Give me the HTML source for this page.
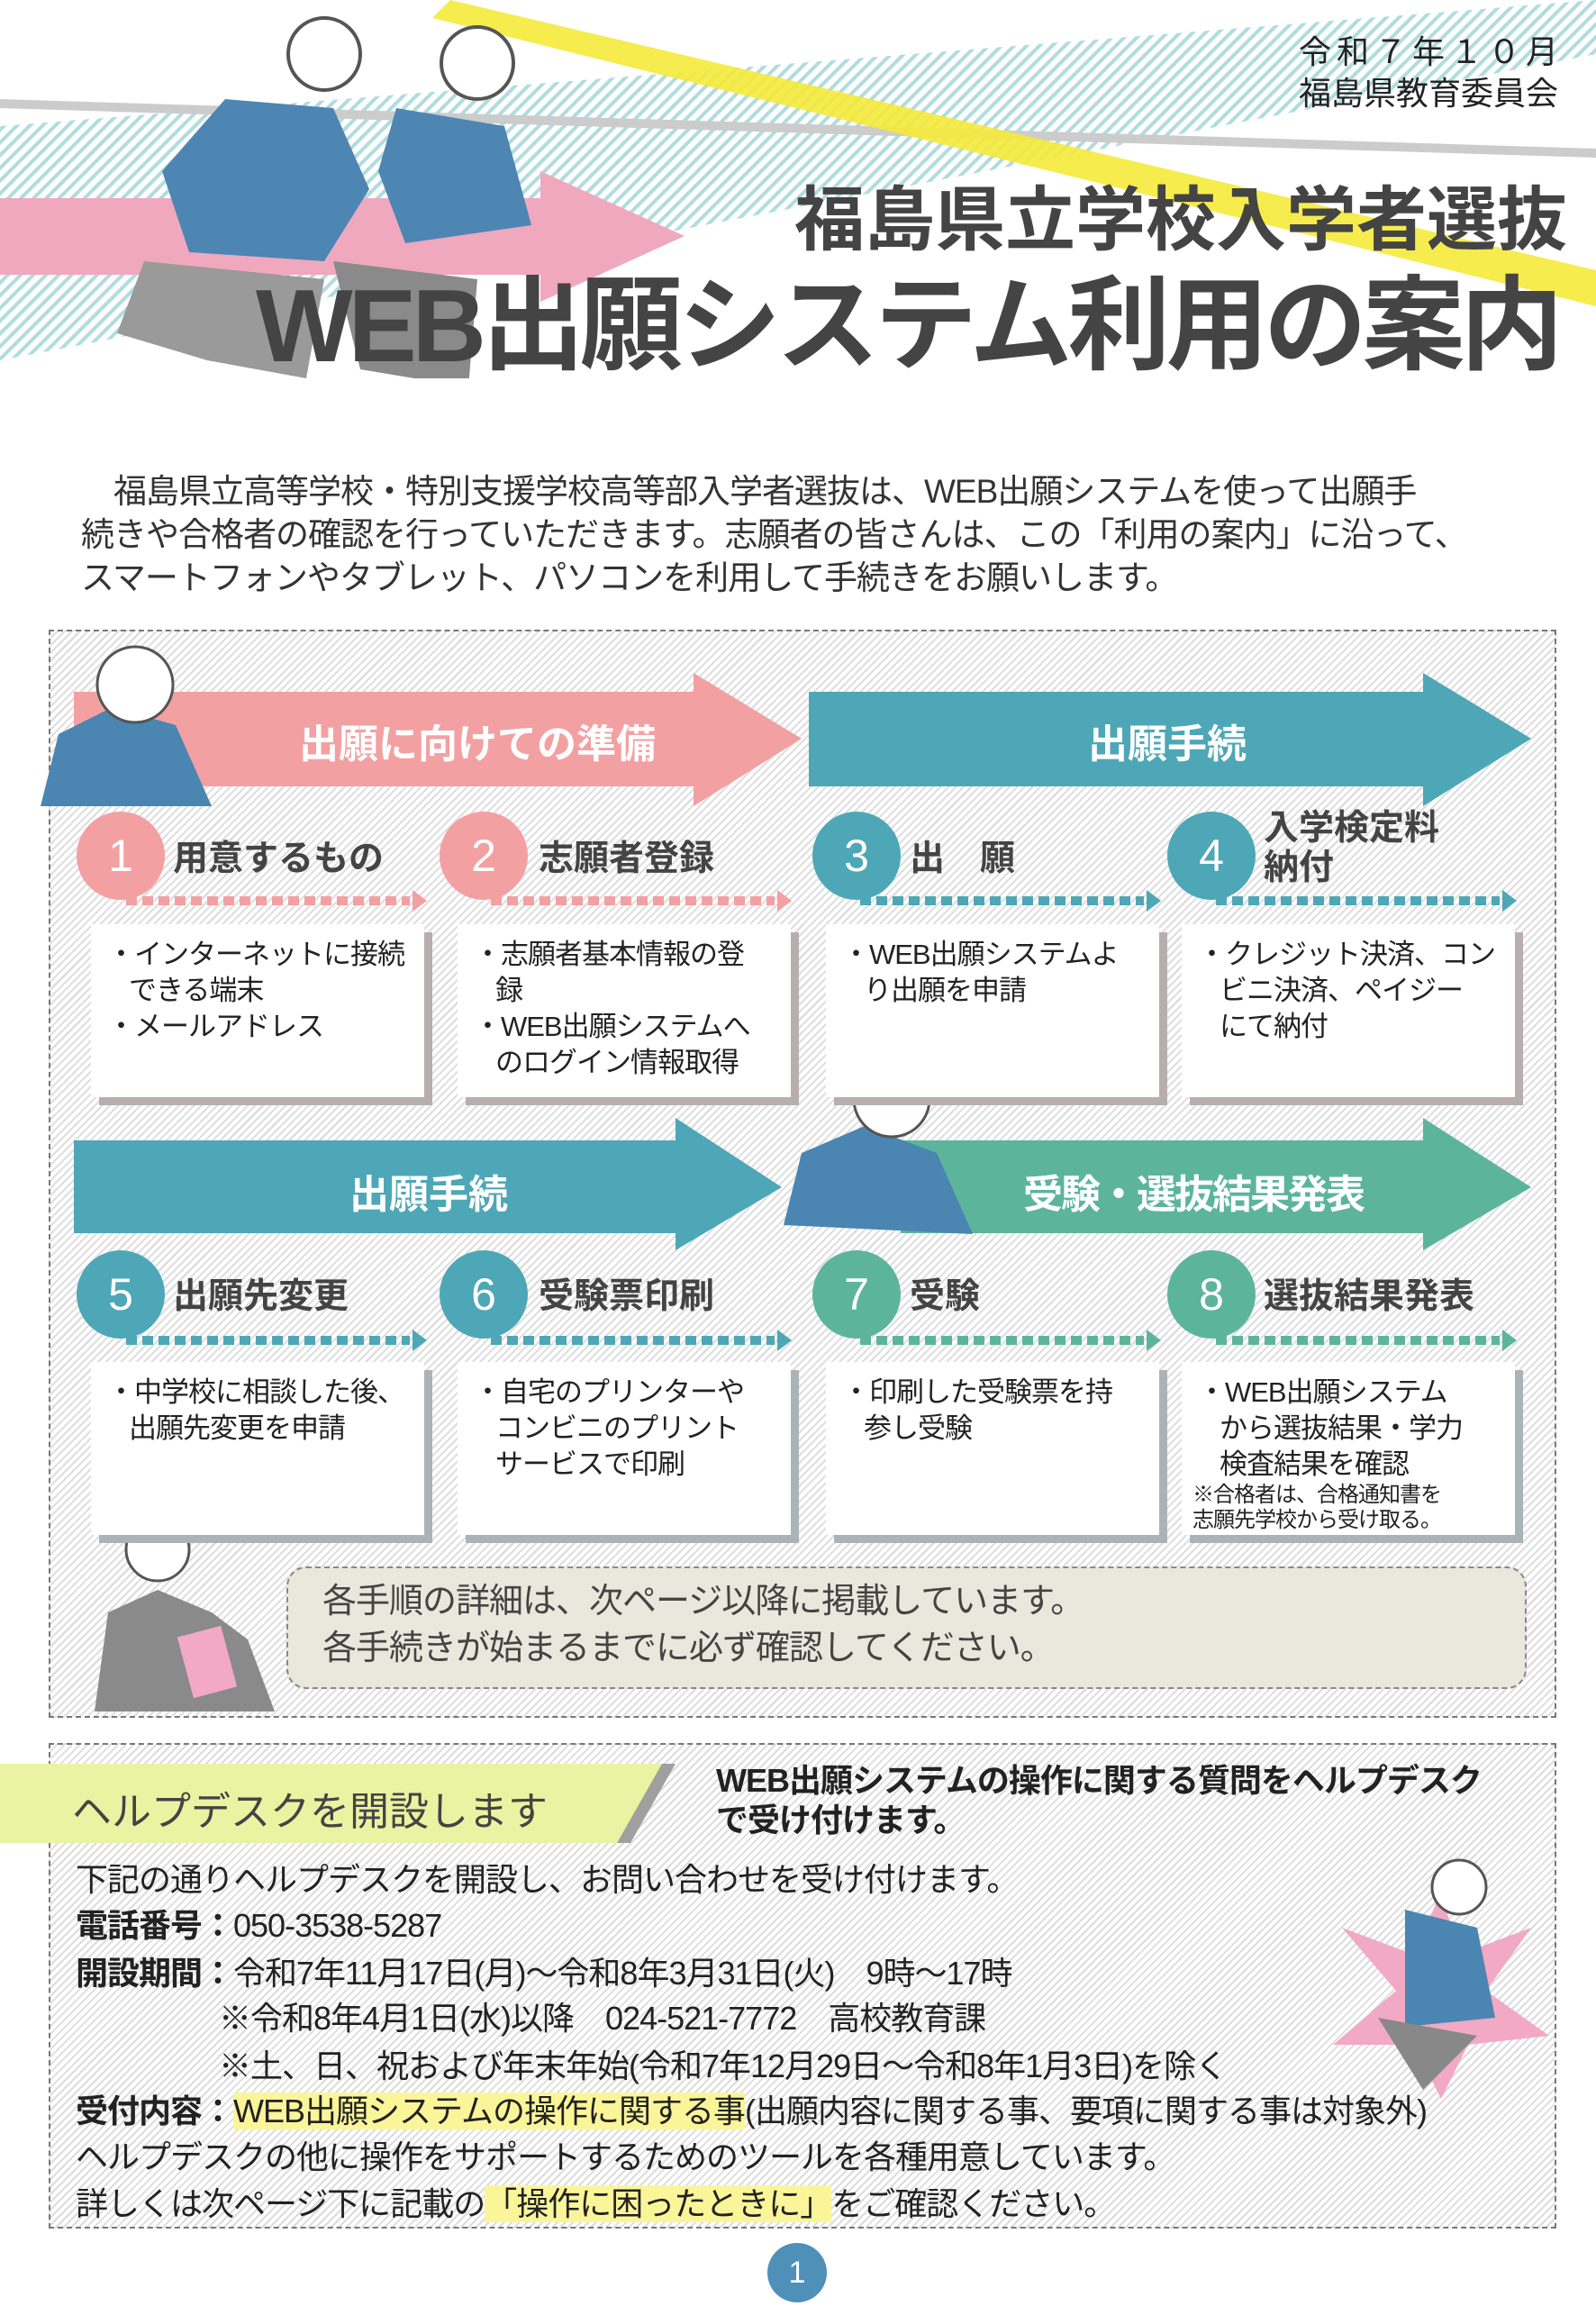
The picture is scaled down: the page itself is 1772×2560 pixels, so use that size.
<!DOCTYPE html>
<html><head><meta charset="utf-8"><style>
*{margin:0;padding:0;box-sizing:border-box}
body{width:1772px;height:2560px;position:relative;background:#fff;font-family:"Liberation Sans","Noto Sans CJK JP",sans-serif;color:#222;overflow:hidden}
.a{position:absolute;white-space:nowrap}
.hatch{background:repeating-linear-gradient(135deg,#fff 0 4px,#dcdcdc 4px 6px)}
.panel{position:absolute;border:2px dashed #777}
.circ{position:absolute;width:98px;height:98px;border-radius:50%;color:#fff;font-size:50px;text-align:center;line-height:98px;font-weight:300}
.sh{position:absolute;font-size:39px;font-weight:bold;color:#444}
.box{position:absolute;background:#fff;box-shadow:9px 9px 0 #b8aeb0;font-size:31px;line-height:40px;padding:14px 6px 0 18px;color:#222;letter-spacing:-1px}
.box p{padding-left:24px;text-indent:-24px}
.ht{position:absolute;left:84px;font-size:36px;font-weight:normal;white-space:nowrap;color:#222;letter-spacing:-1px}
.ht b{font-weight:bold}
.hl{background:#fbf59a}
</style></head><body>
<svg class="a" style="left:0;top:0" width="1772" height="420">
<defs><pattern id="tp" width="10" height="10" patternUnits="userSpaceOnUse" patternTransform="rotate(45)"><rect width="10" height="10" fill="#fff"/><rect width="4" height="10" fill="#7cc4c9"/></pattern></defs>
<polygon points="0,140 1772,0 1772,60 0,400" fill="url(#tp)" opacity="0.6"/>
<polygon points="0,110 1772,165 1772,175 0,120" fill="#ccc"/>
<polygon points="500,0 1772,300 1772,340 480,20" fill="#f5ea3a" opacity="0.9"/>
<polygon points="0,220 600,220 600,190 760,262 600,335 600,305 0,305" fill="#f0a8bf"/>
<g fill="none" stroke="#555" stroke-width="4">
<circle cx="360" cy="60" r="40" fill="#fff"/><circle cx="530" cy="70" r="40" fill="#fff"/></g>
<path d="M250,110 l120,10 l40,90 l-50,80 l-150,-10 l-30,-90 z" fill="#4d86b3"/>
<path d="M440,120 l120,20 l30,110 l-140,20 l-30,-80 z" fill="#4d86b3"/>
<path d="M160,290 l200,20 l-20,110 l-110,-20 l-100,-30 z" fill="#9a9a9a"/>
<path d="M370,290 l160,20 l-10,120 l-120,-20 z" fill="#8a8a8a"/>
</svg>
<div class="a" style="left:1442px;top:36px;font-size:36px;letter-spacing:6px;line-height:44px">令和７年１０月</div>
<div class="a" style="left:1442px;top:82px;font-size:36px;line-height:44px">福島県教育委員会</div>
<div class="a" style="left:882px;top:194px;font-size:78px;font-weight:bold;color:#444;line-height:100px">福島県立学校入学者選抜</div>
<div class="a" style="left:284px;top:298px;font-size:114px;font-weight:bold;color:#444;line-height:130px;letter-spacing:-5px">WEB出願システム利用の案内</div>
<div class="a" style="left:90px;top:522px;font-size:37px;line-height:48px;color:#333;letter-spacing:-1px">　福島県立高等学校・特別支援学校高等部入学者選抜は、WEB出願システムを使って出願手<br>続きや合格者の確認を行っていただきます。志願者の皆さんは、この「利用の案内」に沿って、<br>スマートフォンやタブレット、パソコンを利用して手続きをお願いします。</div>

<div class="panel hatch" style="left:54px;top:699px;width:1674px;height:1208px"></div>
<svg class="a" style="left:0;top:700px" width="1772" height="1210">
<polygon points="82,68 770,68 770,47 890,120 770,195 770,173 82,173" fill="#f3a0a2"/>
<polygon points="898,68 1580,68 1580,47 1700,120 1580,195 1580,173 898,173" fill="#4ea7b6"/>
<polygon points="82,566 750,566 750,541 868,618 750,688 750,669 82,669" fill="#4ea7b6"/>
<polygon points="1000,566 1580,566 1580,541 1700,618 1580,688 1580,669 1000,669" fill="#5cb59b"/>
<path d="M45,195 l20,-80 l60,-30 l70,20 l40,90 z" fill="#4a86b1"/>
<circle cx="150" cy="60" r="42" fill="#fff" stroke="#555" stroke-width="3"/>
<path d="M870,660 l20,-80 l70,-30 l80,30 l40,90 z" fill="#4a86b1"/>
<circle cx="990" cy="520" r="42" fill="#fff" stroke="#555" stroke-width="3"/>
<path d="M105,1200 l15,-110 l55,-25 l60,25 l40,30 l30,80 z" fill="#8a8a8a"/>
<rect x="205" y="1110" width="50" height="70" fill="#f1a9c4" transform="rotate(-15 230 1145)"/>
<circle cx="175" cy="1020" r="35" fill="#fff" stroke="#555" stroke-width="3"/>
</svg>
<div class="a" style="left:332px;top:790px;font-size:44px;font-weight:bold;color:#fff">出願に向けての準備</div>
<div class="a" style="left:1208px;top:790px;font-size:44px;font-weight:bold;color:#fff">出願手続</div>
<div class="a" style="left:388px;top:1290px;font-size:44px;font-weight:bold;color:#fff">出願手続</div>
<div class="a" style="left:1136px;top:1290px;font-size:44px;font-weight:bold;color:#fff;letter-spacing:-2px">受験・選抜結果発表</div>

<div class="circ" style="left:85px;top:901px;background:#f3a0a2">1</div>
<div class="circ" style="left:488px;top:901px;background:#f3a0a2">2</div>
<div class="circ" style="left:902px;top:901px;background:#4ea7b6">3</div>
<div class="circ" style="left:1296px;top:901px;background:#4ea7b6">4</div>
<div class="sh" style="left:192px;top:922px">用意するもの</div>
<div class="sh" style="left:598px;top:922px">志願者登録</div>
<div class="sh" style="left:1010px;top:922px">出　願</div>
<div class="sh" style="left:1403px;top:898px;line-height:44px">入学検定料<br>納付</div>
<svg class="a" style="left:0;top:985px" width="1772" height="30">
<g stroke-width="10" stroke-dasharray="12 6">
<line x1="140" y1="15" x2="455" y2="15" stroke="#f3a0a2"/>
<line x1="545" y1="15" x2="860" y2="15" stroke="#f3a0a2"/>
<line x1="955" y1="15" x2="1270" y2="15" stroke="#4ea7b6"/>
<line x1="1350" y1="15" x2="1665" y2="15" stroke="#4ea7b6"/></g>
<polygon points="458,3 474,15 458,27" fill="#f3a0a2"/><polygon points="863,3 879,15 863,27" fill="#f3a0a2"/>
<polygon points="1273,3 1289,15 1273,27" fill="#4ea7b6"/><polygon points="1668,3 1684,15 1668,27" fill="#4ea7b6"/>
</svg>
<div class="box" style="left:101px;top:1026px;width:370px;height:192px"><p>・インターネットに接続<br>できる端末</p><p>・メールアドレス</p></div>
<div class="box" style="left:508px;top:1026px;width:370px;height:192px"><p>・志願者基本情報の登<br>録</p><p>・WEB出願システムへ<br>のログイン情報取得</p></div>
<div class="box" style="left:917px;top:1026px;width:370px;height:192px"><p>・WEB出願システムよ<br>り出願を申請</p></div>
<div class="box" style="left:1312px;top:1026px;width:370px;height:192px"><p>・クレジット決済、コン<br>ビニ決済、ペイジー<br>にて納付</p></div>

<div class="circ" style="left:85px;top:1388px;background:#4ea7b6">5</div>
<div class="circ" style="left:488px;top:1388px;background:#4ea7b6">6</div>
<div class="circ" style="left:902px;top:1388px;background:#5cb59b">7</div>
<div class="circ" style="left:1296px;top:1388px;background:#5cb59b">8</div>
<div class="sh" style="left:192px;top:1408px">出願先変更</div>
<div class="sh" style="left:598px;top:1408px">受験票印刷</div>
<div class="sh" style="left:1010px;top:1408px">受験</div>
<div class="sh" style="left:1403px;top:1408px">選抜結果発表</div>
<svg class="a" style="left:0;top:1473px" width="1772" height="30">
<g stroke-width="10" stroke-dasharray="12 6">
<line x1="140" y1="15" x2="455" y2="15" stroke="#4ea7b6"/>
<line x1="545" y1="15" x2="860" y2="15" stroke="#4ea7b6"/>
<line x1="955" y1="15" x2="1270" y2="15" stroke="#5cb59b"/>
<line x1="1350" y1="15" x2="1665" y2="15" stroke="#5cb59b"/></g>
<polygon points="458,3 474,15 458,27" fill="#4ea7b6"/><polygon points="863,3 879,15 863,27" fill="#4ea7b6"/>
<polygon points="1273,3 1289,15 1273,27" fill="#5cb59b"/><polygon points="1668,3 1684,15 1668,27" fill="#5cb59b"/>
</svg>
<div class="box" style="left:101px;top:1512px;width:370px;height:192px;box-shadow:9px 9px 0 #aab4b8"><p>・中学校に相談した後、<br>出願先変更を申請</p></div>
<div class="box" style="left:508px;top:1512px;width:370px;height:192px;box-shadow:9px 9px 0 #aab4b8"><p>・自宅のプリンターや<br>コンビニのプリント<br>サービスで印刷</p></div>
<div class="box" style="left:917px;top:1512px;width:370px;height:192px;box-shadow:9px 9px 0 #aab4b8"><p>・印刷した受験票を持<br>参し受験</p></div>
<div class="box" style="left:1312px;top:1512px;width:370px;height:192px;box-shadow:9px 9px 0 #aab4b8"><p>・WEB出願システム<br>から選抜結果・学力<br>検査結果を確認</p><div style="font-size:24px;line-height:28px;margin-left:-6px">※合格者は、合格通知書を<br>志願先学校から受け取る。</div></div>

<div class="a" style="left:318px;top:1739px;width:1377px;height:136px;background:#e9e8dc;border:2px dashed #888;border-radius:22px"></div>
<div class="a" style="left:358px;top:1752px;font-size:38px;line-height:52px;color:#444;letter-spacing:-1px">各手順の詳細は、次ページ以降に掲載しています。<br>各手続きが始まるまでに必ず確認してください。</div>

<div class="panel hatch" style="left:54px;top:1935px;width:1674px;height:539px"></div>
<svg class="a" style="left:0;top:1958px" width="760" height="90"><polygon points="0,0 750,0 700,88 0,88" fill="#a0a0a0"/><polygon points="0,0 735,0 685,88 0,88" fill="#eaf3a2"/></svg>
<div class="a" style="left:80px;top:1975px;font-size:44px;color:#444">ヘルプデスクを開設します</div>
<div class="a" style="left:795px;top:1955px;font-size:36px;font-weight:bold;line-height:44px;letter-spacing:-1px">WEB出願システムの操作に関する質問をヘルプデスク<br>で受け付けます。</div>
<svg class="a" style="left:1470px;top:2040px" width="260" height="290">
<polygon points="130,60 150,130 230,100 180,170 250,220 160,230 130,290 100,230 10,230 80,170 20,100 100,130" fill="#f1a9c4"/>
<path d="M90,80 l80,20 l20,100 l-100,10 z" fill="#4a86b1"/><path d="M60,200 l110,20 l-60,60 z" fill="#888"/>
<circle cx="150" cy="55" r="30" fill="#fff" stroke="#555" stroke-width="3"/>
</svg>
<div class="ht" style="top:2058px">下記の通りヘルプデスクを開設し、お問い合わせを受け付けます。</div>
<div class="ht" style="top:2109px"><b>電話番号：</b>050-3538-5287</div>
<div class="ht" style="top:2162px"><b>開設期間：</b>令和7年11月17日(月)～令和8年3月31日(火)　9時～17時</div>
<div class="ht" style="top:2212px;left:243px">※令和8年4月1日(水)以降　024-521-7772　高校教育課</div>
<div class="ht" style="top:2265px;left:243px">※土、日、祝および年末年始(令和7年12月29日～令和8年1月3日)を除く</div>
<div class="ht" style="top:2315px"><b>受付内容：</b><span class="hl">WEB出願システムの操作に関する事</span>(出願内容に関する事、要項に関する事は対象外)</div>
<div class="ht" style="top:2366px">ヘルプデスクの他に操作をサポートするためのツールを各種用意しています。</div>
<div class="ht" style="top:2418px">詳しくは次ページ下に記載の<span class="hl">「操作に困ったときに」</span>をご確認ください。</div>

<div class="a" style="left:852px;top:2490px;width:66px;height:66px;border-radius:50%;background:#4e90b8;color:#fff;font-size:34px;text-align:center;line-height:66px">1</div>
</body></html>
